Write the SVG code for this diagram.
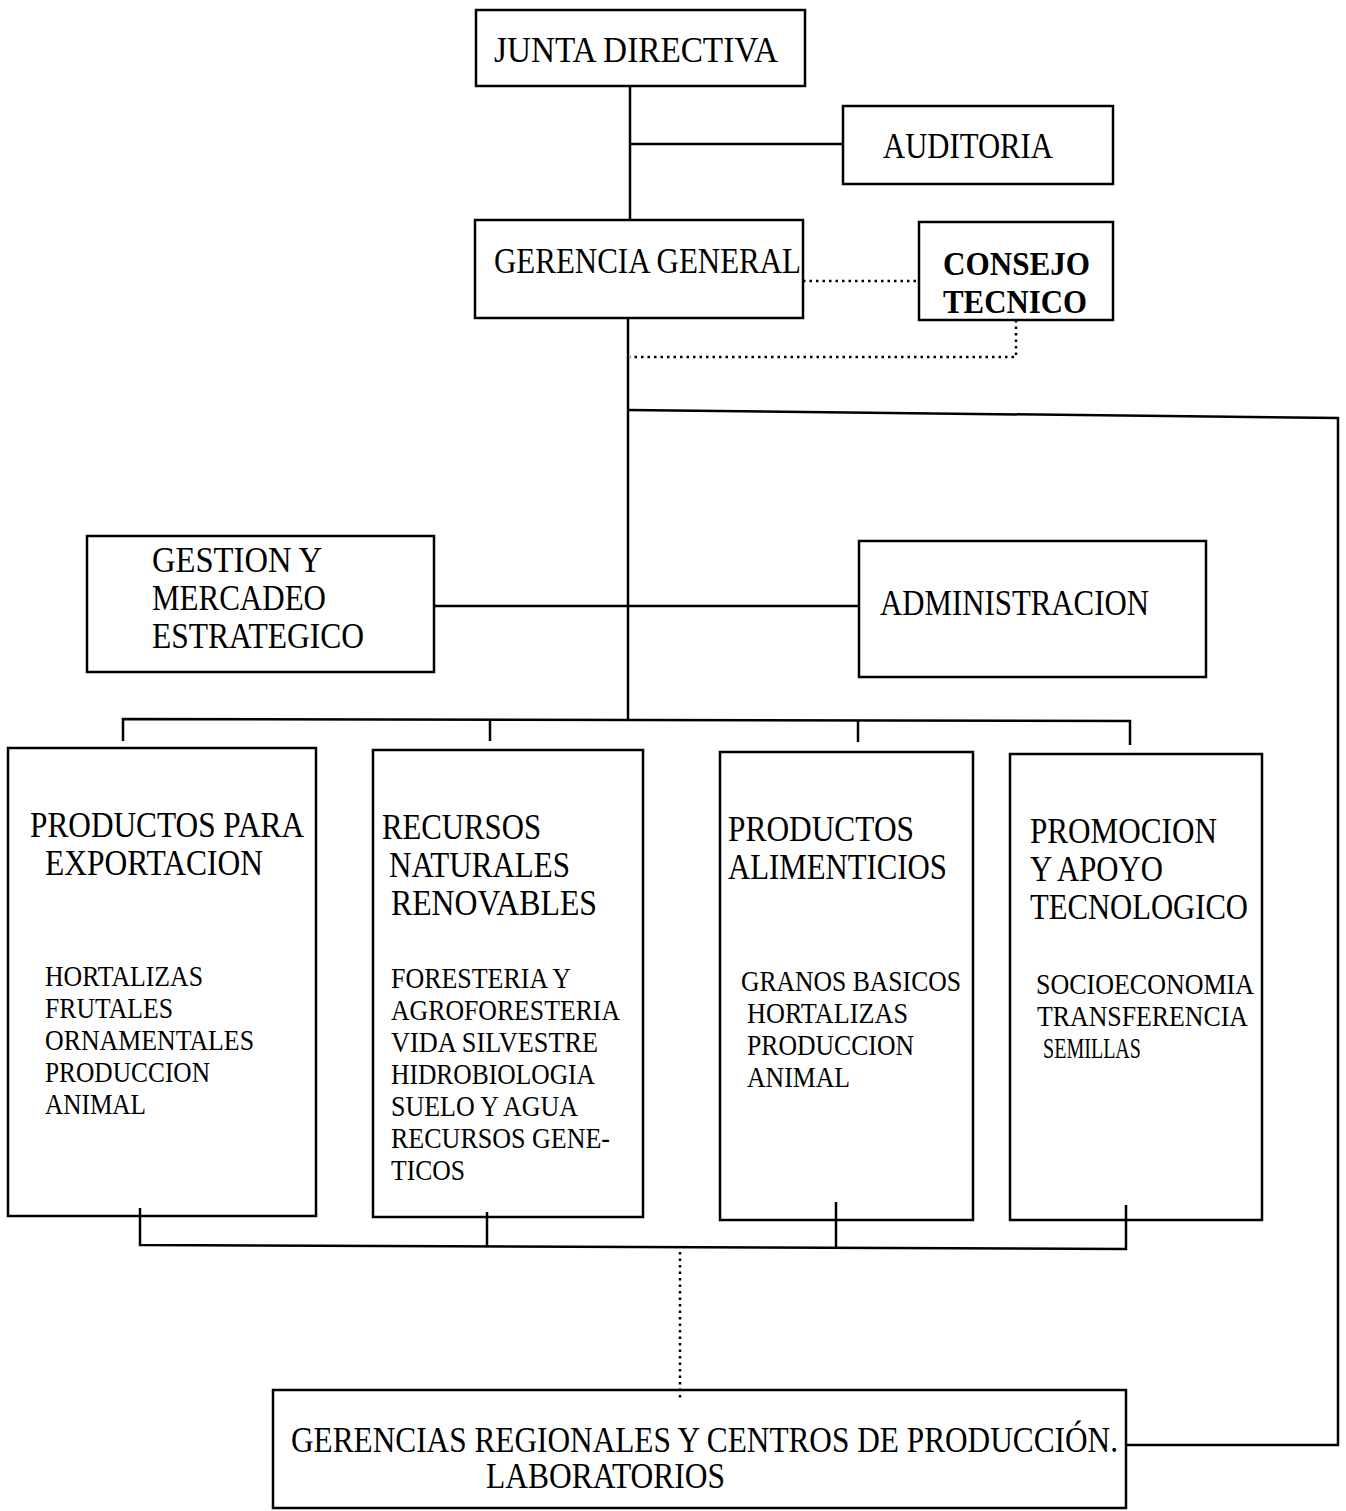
<svg xmlns="http://www.w3.org/2000/svg" width="1346" height="1511" viewBox="0 0 1346 1511">
<style>
.box{fill:none;stroke:#000;stroke-width:2.5}
.ln{fill:none;stroke:#000;stroke-width:2.5}
.dot{fill:none;stroke:#000;stroke-width:2.5;stroke-dasharray:2.5 4}
text{font-family:"Liberation Serif","Times New Roman",serif;fill:#000}
.t{font-size:35px}
.s{font-size:30px}
.b{font-size:33px;font-weight:bold}
</style>
<rect width="1346" height="1511" fill="#fff"/>
<g id="connectors">
<line class="ln" x1="630" y1="86" x2="630" y2="220"/>
<line class="ln" x1="630" y1="144" x2="843" y2="144"/>
<line class="dot" x1="803" y1="281" x2="919" y2="281"/>
<polyline class="dot" points="1016,320 1016,357 630,357"/>
<line class="ln" x1="628" y1="318" x2="628" y2="721"/>
<polyline class="ln" points="628,410 1338,418 1338,1445 1126,1445"/>
<line class="ln" x1="434" y1="606" x2="859" y2="606"/>
<polyline class="ln" points="123,741 123,719 1130,721 1130,745"/>
<line class="ln" x1="490" y1="720" x2="490" y2="741"/>
<line class="ln" x1="858" y1="721" x2="858" y2="742"/>
<polyline class="ln" points="140,1208 140,1245 1126,1249 1126,1205"/>
<line class="ln" x1="487" y1="1212" x2="487" y2="1246"/>
<line class="ln" x1="836" y1="1202" x2="836" y2="1248"/>
<line class="dot" x1="680" y1="1252" x2="680" y2="1400"/>
</g>
<g id="junta">
<rect class="box" x="476" y="10" width="329" height="76"/>
<text class="t" x="494" y="62" textLength="284" lengthAdjust="spacingAndGlyphs">JUNTA DIRECTIVA</text>
</g>
<g id="auditoria">
<rect class="box" x="843" y="106" width="270" height="78"/>
<text class="t" x="883" y="158" textLength="170" lengthAdjust="spacingAndGlyphs">AUDITORIA</text>
</g>
<g id="gerencia">
<rect class="box" x="475" y="220" width="328" height="98"/>
<text class="t" x="494" y="273" textLength="307" lengthAdjust="spacingAndGlyphs">GERENCIA GENERAL</text>
</g>
<g id="consejo">
<rect class="box" x="919" y="222" width="194" height="98"/>
<text class="b" x="943" y="275" textLength="147" lengthAdjust="spacingAndGlyphs">CONSEJO</text>
<text class="b" x="943" y="313" textLength="144" lengthAdjust="spacingAndGlyphs">TECNICO</text>
</g>
<g id="gestion">
<rect class="box" x="87" y="536" width="347" height="136"/>
<text class="t" x="152" y="572" textLength="170" lengthAdjust="spacingAndGlyphs">GESTION Y</text>
<text class="t" x="152" y="610" textLength="174" lengthAdjust="spacingAndGlyphs">MERCADEO</text>
<text class="t" x="152" y="648" textLength="212" lengthAdjust="spacingAndGlyphs">ESTRATEGICO</text>
</g>
<g id="administracion">
<rect class="box" x="859" y="541" width="347" height="136"/>
<text class="t" x="880" y="615" textLength="269" lengthAdjust="spacingAndGlyphs">ADMINISTRACION</text>
</g>
<g id="exportacion">
<rect class="box" x="8" y="748" width="308" height="468"/>
<text class="t" x="30" y="837" textLength="274" lengthAdjust="spacingAndGlyphs">PRODUCTOS PARA</text>
<text class="t" x="45" y="875" textLength="218" lengthAdjust="spacingAndGlyphs">EXPORTACION</text>
<text class="s" x="45" y="986" textLength="158" lengthAdjust="spacingAndGlyphs">HORTALIZAS</text>
<text class="s" x="45" y="1018" textLength="128" lengthAdjust="spacingAndGlyphs">FRUTALES</text>
<text class="s" x="45" y="1050" textLength="209" lengthAdjust="spacingAndGlyphs">ORNAMENTALES</text>
<text class="s" x="45" y="1082" textLength="165" lengthAdjust="spacingAndGlyphs">PRODUCCION</text>
<text class="s" x="45" y="1114" textLength="101" lengthAdjust="spacingAndGlyphs">ANIMAL</text>
</g>
<g id="recursos">
<rect class="box" x="373" y="750" width="270" height="467"/>
<text class="t" x="382" y="839" textLength="159" lengthAdjust="spacingAndGlyphs">RECURSOS</text>
<text class="t" x="389" y="877" textLength="181" lengthAdjust="spacingAndGlyphs">NATURALES</text>
<text class="t" x="391" y="915" textLength="206" lengthAdjust="spacingAndGlyphs">RENOVABLES</text>
<text class="s" x="391" y="988" textLength="180" lengthAdjust="spacingAndGlyphs">FORESTERIA Y</text>
<text class="s" x="391" y="1020" textLength="229" lengthAdjust="spacingAndGlyphs">AGROFORESTERIA</text>
<text class="s" x="391" y="1052" textLength="207" lengthAdjust="spacingAndGlyphs">VIDA SILVESTRE</text>
<text class="s" x="391" y="1084" textLength="204" lengthAdjust="spacingAndGlyphs">HIDROBIOLOGIA</text>
<text class="s" x="391" y="1116" textLength="187" lengthAdjust="spacingAndGlyphs">SUELO Y AGUA</text>
<text class="s" x="391" y="1148" textLength="219" lengthAdjust="spacingAndGlyphs">RECURSOS GENE-</text>
<text class="s" x="391" y="1180" textLength="74" lengthAdjust="spacingAndGlyphs">TICOS</text>
</g>
<g id="alimenticios">
<rect class="box" x="720" y="752" width="253" height="468"/>
<text class="t" x="728" y="841" textLength="186" lengthAdjust="spacingAndGlyphs">PRODUCTOS</text>
<text class="t" x="728" y="879" textLength="219" lengthAdjust="spacingAndGlyphs">ALIMENTICIOS</text>
<text class="s" x="741" y="991" textLength="220" lengthAdjust="spacingAndGlyphs">GRANOS BASICOS</text>
<text class="s" x="747" y="1023" textLength="161" lengthAdjust="spacingAndGlyphs">HORTALIZAS</text>
<text class="s" x="747" y="1055" textLength="167" lengthAdjust="spacingAndGlyphs">PRODUCCION</text>
<text class="s" x="747" y="1087" textLength="103" lengthAdjust="spacingAndGlyphs">ANIMAL</text>
</g>
<g id="promocion">
<rect class="box" x="1010" y="754" width="252" height="466"/>
<text class="t" x="1030" y="843" textLength="187" lengthAdjust="spacingAndGlyphs">PROMOCION</text>
<text class="t" x="1030" y="881" textLength="133" lengthAdjust="spacingAndGlyphs">Y APOYO</text>
<text class="t" x="1030" y="919" textLength="218" lengthAdjust="spacingAndGlyphs">TECNOLOGICO</text>
<text class="s" x="1036" y="994" textLength="218" lengthAdjust="spacingAndGlyphs">SOCIOECONOMIA</text>
<text class="s" x="1037" y="1026" textLength="211" lengthAdjust="spacingAndGlyphs">TRANSFERENCIA</text>
<text class="s" x="1043" y="1058" textLength="98" lengthAdjust="spacingAndGlyphs">SEMILLAS</text>
</g>
<g id="regionales">
<rect class="box" x="273" y="1390" width="853" height="118"/>
<text class="t" x="291" y="1452" textLength="827" lengthAdjust="spacingAndGlyphs">GERENCIAS REGIONALES Y CENTROS DE PRODUCCIÓN.</text>
<text class="t" x="486" y="1488" textLength="239" lengthAdjust="spacingAndGlyphs">LABORATORIOS</text>
</g>
</svg>
